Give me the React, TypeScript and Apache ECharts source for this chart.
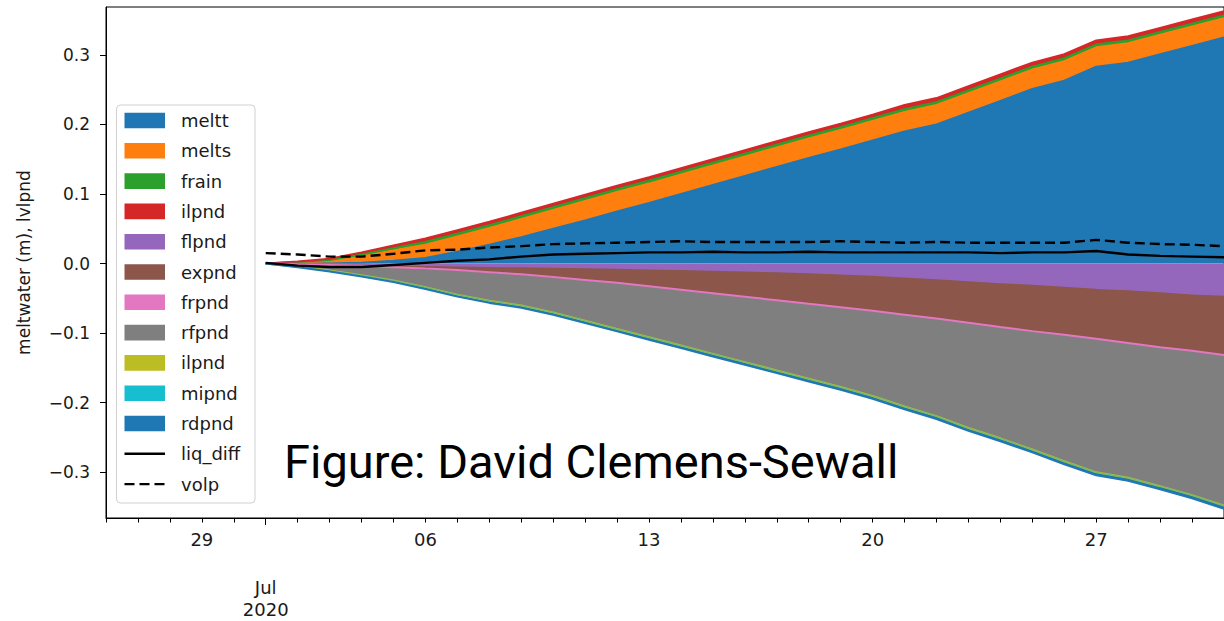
import React, { useEffect, useRef } from "react";
import * as echarts from "echarts";

// daily categories from 26 Jun to 31 Jul 2020 (data begins 1 Jul)
const dayCats = [
  "2020-06-26", "2020-06-27", "2020-06-28", "2020-06-29", "2020-06-30",
  "2020-07-01", "2020-07-02", "2020-07-03", "2020-07-04", "2020-07-05", "2020-07-06", "2020-07-07", "2020-07-08",
  "2020-07-09", "2020-07-10", "2020-07-11", "2020-07-12", "2020-07-13", "2020-07-14", "2020-07-15", "2020-07-16",
  "2020-07-17", "2020-07-18", "2020-07-19", "2020-07-20", "2020-07-21", "2020-07-22", "2020-07-23", "2020-07-24",
  "2020-07-25", "2020-07-26", "2020-07-27", "2020-07-28", "2020-07-29", "2020-07-30", "2020-07-31",
];
const dataStart = "2020-07-01";

// positive (stacked upward), 1 Jul .. 31 Jul
const meltt = [0, 0, 0, 0.001, 0.004, 0.008, 0.017, 0.027, 0.038, 0.05, 0.062, 0.075, 0.087, 0.1, 0.113, 0.126, 0.139, 0.152, 0.164, 0.177, 0.19, 0.2, 0.217, 0.234, 0.251, 0.263, 0.283, 0.289, 0.301, 0.313, 0.325];
const melts = [0, 0.002, 0.004, 0.01, 0.015, 0.019, 0.022, 0.024, 0.026, 0.027, 0.028, 0.028, 0.028, 0.028, 0.028, 0.028, 0.028, 0.028, 0.028, 0.028, 0.028, 0.028, 0.028, 0.028, 0.028, 0.028, 0.028, 0.028, 0.028, 0.028, 0.028];
const frain = [0, 0.0001, 0.001, 0.002, 0.003, 0.004, 0.004, 0.004, 0.004, 0.004, 0.004, 0.004, 0.004, 0.004, 0.004, 0.004, 0.004, 0.004, 0.004, 0.004, 0.004, 0.004, 0.004, 0.004, 0.004, 0.004, 0.004, 0.004, 0.004, 0.004, 0.004];
const ilpnd = [0, 0.001, 0.002, 0.003, 0.004, 0.005, 0.005, 0.005, 0.005, 0.005, 0.005, 0.005, 0.005, 0.005, 0.005, 0.005, 0.005, 0.005, 0.005, 0.005, 0.006, 0.006, 0.006, 0.006, 0.006, 0.006, 0.006, 0.006, 0.006, 0.006, 0.006];

// negative (stacked downward)
const flpnd = [0, -0.0004, -0.0008, -0.0012, -0.0017, -0.0022, -0.0028, -0.0034, -0.004, -0.0047, -0.0054, -0.0062, -0.007, -0.0079, -0.0089, -0.01, -0.0112, -0.0126, -0.0142, -0.016, -0.0185, -0.021, -0.024, -0.027, -0.029, -0.032, -0.035, -0.037, -0.04, -0.043, -0.045];
const expnd = [0, -0.0006, -0.0012, -0.0018, -0.0033, -0.0048, -0.0062, -0.0086, -0.011, -0.0143, -0.0176, -0.0208, -0.025, -0.0291, -0.0331, -0.037, -0.0408, -0.0444, -0.0478, -0.051, -0.054, -0.057, -0.06, -0.063, -0.067, -0.069, -0.072, -0.076, -0.079, -0.081, -0.085];
const frpnd = [0, -0.0001, -0.0001, -0.0002, -0.0002, -0.0003, -0.0003, -0.0004, -0.0004, -0.0005, -0.0005, -0.0006, -0.0006, -0.0007, -0.0007, -0.0008, -0.0008, -0.0009, -0.0009, -0.001, -0.001, -0.0011, -0.0011, -0.0012, -0.0012, -0.0013, -0.0013, -0.0014, -0.0014, -0.0015, -0.0015];
const rfpnd = [0, -0.0033, -0.0079, -0.0133, -0.0189, -0.0263, -0.0351, -0.0407, -0.0446, -0.0504, -0.0582, -0.066, -0.0729, -0.0796, -0.0866, -0.0934, -0.1003, -0.1071, -0.1141, -0.1218, -0.1313, -0.1396, -0.1505, -0.1593, -0.1693, -0.181, -0.191, -0.1928, -0.1987, -0.2065, -0.2155];
const ilpnd2 = [0, -0.0001, -0.0001, -0.0002, -0.0002, -0.0003, -0.0003, -0.0004, -0.0004, -0.0004, -0.0005, -0.0005, -0.0005, -0.0006, -0.0006, -0.0006, -0.0007, -0.0007, -0.0007, -0.0008, -0.0008, -0.0008, -0.0009, -0.0009, -0.0009, -0.001, -0.001, -0.001, -0.0011, -0.0011, -0.0011];
const mipnd = [0, -0.0001, -0.0001, -0.0001, -0.0001, -0.0001, -0.0001, -0.0001, -0.0001, -0.0001, -0.0001, -0.0001, -0.0001, -0.0001, -0.0001, -0.0001, -0.0001, -0.0001, -0.0001, -0.0001, -0.0001, -0.0001, -0.0001, -0.0001, -0.0001, -0.0001, -0.0001, -0.0001, -0.0001, -0.0001, -0.0001];
const rdpnd = [0, -0.0006, -0.0012, -0.0018, -0.0022, -0.0026, -0.0028, -0.003, -0.0031, -0.0032, -0.0033, -0.0034, -0.0035, -0.0036, -0.0036, -0.0037, -0.0037, -0.0038, -0.0038, -0.0039, -0.0039, -0.004, -0.004, -0.0041, -0.0041, -0.0042, -0.0042, -0.0043, -0.0043, -0.0044, -0.0044];

// lines
const liqDiff = [0.001, -0.003, -0.005, -0.005, -0.002, 0.001, 0.004, 0.006, 0.01, 0.013, 0.014, 0.015, 0.016, 0.016, 0.017, 0.016, 0.016, 0.017, 0.016, 0.016, 0.016, 0.016, 0.016, 0.015, 0.016, 0.016, 0.018, 0.013, 0.011, 0.01, 0.009];
const volp = [0.015, 0.013, 0.01, 0.01, 0.014, 0.019, 0.02, 0.023, 0.025, 0.028, 0.029, 0.03, 0.031, 0.032, 0.031, 0.031, 0.031, 0.031, 0.032, 0.031, 0.03, 0.031, 0.03, 0.03, 0.03, 0.03, 0.034, 0.03, 0.028, 0.027, 0.025];

const areaNames = ["meltt", "melts", "frain", "ilpnd", "flpnd", "expnd", "frpnd", "rfpnd", "ilpnd", "mipnd", "rdpnd"];
const areaValues = [meltt, melts, frain, ilpnd, flpnd, expnd, frpnd, rfpnd, ilpnd2, mipnd, rdpnd];
const areaColors = ["#1f77b4", "#ff7f0e", "#2ca02c", "#d62728", "#9467bd", "#8c564b", "#e377c2", "#7f7f7f", "#bcbd22", "#17becf", "#1f77b4"];
const lineNames = ["liq_diff", "volp"];

// weekly day labels and the month label
const xLabelCats = ["2020-06-29", "2020-07-06", "2020-07-13", "2020-07-20", "2020-07-27"];
const xLabelTexts = ["29", "06", "13", "20", "27"];
const monthCat = "2020-07-01";
const monthLabel = "Jul\n2020";
const yTicks = [-0.3, -0.2, -0.1, 0, 0.1, 0.2, 0.3];

const FONT = "DejaVu Sans";

export default function App() {
  const ref = useRef<HTMLDivElement>(null);
  useEffect(() => {
    const chart = echarts.init(ref.current!, null, { renderer: "svg" });
    const offset = dayCats.indexOf(dataStart);
    const pad = (arr: number[]) => dayCats.map((_, i) => (i < offset ? null : arr[i - offset]));

    const areaSeries = areaNames.map((name, i) => ({
      type: "line",
      name,
      stack: "total",
      stackStrategy: "samesign",
      data: pad(areaValues[i]),
      showSymbol: false,
      symbol: "none",
      lineStyle: { color: areaColors[i], width: i === 9 ? 0.6 : 2 },
      itemStyle: { color: areaColors[i] },
      areaStyle: { color: areaColors[i], opacity: 1 },
      z: 2,
    }));
    const lineSeries = [
      {
        type: "line",
        name: "liq_diff",
        data: pad(liqDiff),
        showSymbol: false,
        symbol: "none",
        lineStyle: { color: "#000", width: 2.4 },
        z: 3,
      },
      {
        type: "line",
        name: "volp",
        data: pad(volp),
        showSymbol: false,
        symbol: "none",
        lineStyle: { color: "#000", width: 2.4, type: [10, 5] },
        z: 3,
      },
    ];

    // legend drawn as graphic
    const legendTop = 120.5;
    const legendStep = 30.3;
    const legendItems: any[] = [
      {
        type: "rect",
        shape: { x: 116.5, y: 105, width: 138.5, height: 398, r: 4 },
        style: { fill: "rgba(255,255,255,0.85)", stroke: "#d0d0d0", lineWidth: 1 },
        z: 10,
      },
    ];
    areaNames.forEach((name, i) => {
      const cy = legendTop + legendStep * i;
      legendItems.push({
        type: "rect",
        shape: { x: 124.5, y: cy - 7.8, width: 40.5, height: 15.6 },
        style: { fill: areaColors[i] },
        z: 11,
      });
      legendItems.push({
        type: "text",
        x: 181,
        y: cy,
        style: { text: name, font: `18px '${FONT}'`, fill: "#1a1a1a", verticalAlign: "middle", align: "left" },
        z: 11,
      });
    });
    lineNames.forEach((name, j) => {
      const cy = legendTop + legendStep * (areaNames.length + j);
      legendItems.push({
        type: "line",
        shape: { x1: 124.5, y1: cy, x2: 165, y2: cy },
        style: { stroke: "#000", lineWidth: 2.4, lineDash: j === 1 ? [10, 5] : null },
        z: 11,
      });
      legendItems.push({
        type: "text",
        x: 181,
        y: cy,
        style: { text: name, font: `18px '${FONT}'`, fill: "#1a1a1a", verticalAlign: "middle", align: "left" },
        z: 11,
      });
    });
    legendItems.push({
      type: "text",
      x: 284,
      y: 461,
      style: {
        text: "Figure: David Clemens-Sewall",
        font: "47px Roboto",
        fill: "#000",
        verticalAlign: "middle",
        align: "left",
      },
      z: 12,
    });

    const option: any = {
      animation: false,
      backgroundColor: "#fff",
      grid: {
        left: 106,
        top: 7,
        width: 1120,
        height: 511,
        show: true,
        borderColor: "#000",
        borderWidth: 1,
        backgroundColor: "transparent",
      },
      xAxis: [
        {
          type: "category",
          data: dayCats,
          boundaryGap: false,
          position: "bottom",
          splitLine: { show: false },
          axisLine: { show: true, onZero: false, lineStyle: { color: "#000", width: 1 } },
          axisTick: {
            show: true,
            length: 4.5,
            interval: 0,
            alignWithLabel: true,
            lineStyle: { color: "#000", width: 1 },
          },
          axisLabel: {
            interval: (_i: number, v: string) => xLabelCats.indexOf(v) >= 0,
            formatter: (v: string) => {
              const idx = xLabelCats.indexOf(v);
              return idx >= 0 ? xLabelTexts[idx] : "";
            },
            margin: 12,
            fontFamily: FONT,
            fontSize: 18,
            color: "#1a1a1a",
          },
        },
        {
          type: "category",
          data: dayCats,
          boundaryGap: false,
          position: "bottom",
          splitLine: { show: false },
          axisLine: { show: false, onZero: false },
          axisTick: {
            show: true,
            length: 7,
            interval: (_i: number, v: string) => v === monthCat,
            lineStyle: { color: "#000", width: 1 },
          },
          axisLabel: {
            interval: (_i: number, v: string) => v === monthCat,
            formatter: (v: string) => (v === monthCat ? monthLabel : ""),
            margin: 58,
            lineHeight: 22,
            fontFamily: FONT,
            fontSize: 18,
            color: "#1a1a1a",
          },
        },
      ],
      yAxis: {
        type: "value",
        min: -0.366,
        max: 0.369,
        name: "meltwater (m), lvlpnd",
        nameLocation: "middle",
        nameGap: 74,
        nameTextStyle: { fontFamily: FONT, fontSize: 17, color: "#1a1a1a" },
        splitLine: { show: false },
        axisLine: { show: true, onZero: false, lineStyle: { color: "#000", width: 1 } },
        axisTick: {
          show: true,
          length: 6,
          customValues: yTicks,
          lineStyle: { color: "#000", width: 1 },
        },
        axisLabel: {
          customValues: yTicks,
          formatter: (v: number) => {
            const s = v.toFixed(1);
            return s.replace("-", "\u2212");
          },
          margin: 16,
          fontFamily: FONT,
          fontSize: 17,
          color: "#1a1a1a",
        },
      },
      series: [...areaSeries, ...lineSeries],
      graphic: legendItems,
    };
    chart.setOption(option);
    return () => chart.dispose();
  }, []);
  return (
    <div
      ref={ref}
      style={{ position: "absolute", left: 0, top: 0, width: 1224, height: 621, background: "#fff" }}
    />
  );
}
